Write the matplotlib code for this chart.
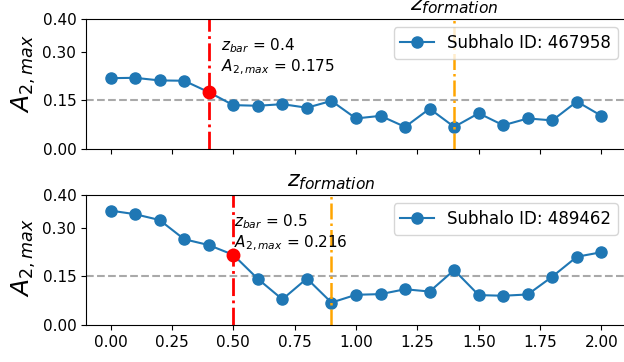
import numpy as np
import matplotlib
matplotlib.use("Agg")
import matplotlib.pyplot as plt

# redshift grid shared by both subhalos
z = [0.0, 0.1, 0.2, 0.3, 0.4, 0.5, 0.6, 0.7, 0.8, 0.9, 1.0,
     1.1, 1.2, 1.3, 1.4, 1.5, 1.6, 1.7, 1.8, 1.9, 2.0]

# A2,max per snapshot
a2_467958 = [0.218, 0.219, 0.211, 0.210, 0.175, 0.135, 0.133, 0.138, 0.127, 0.148, 0.094,
             0.102, 0.068, 0.124, 0.068, 0.110, 0.073, 0.094, 0.088, 0.146, 0.102]
a2_489462 = [0.352, 0.341, 0.323, 0.264, 0.246, 0.216, 0.142, 0.079, 0.143, 0.069, 0.093,
             0.095, 0.110, 0.103, 0.169, 0.092, 0.090, 0.094, 0.149, 0.210, 0.224]

ids = ["467958", "489462"]
z_bar = [0.4, 0.5]
a2_bar = [0.175, 0.216]
z_form = [1.4, 0.9]
text_x = [0.45, 0.505]
label_y = [0.58, 0.52]

yticks = [0.0, 0.15, 0.30, 0.40]
ytick_labels = ["0.00", "0.15", "0.30", "0.40"]
xticks = [0.0, 0.25, 0.5, 0.75, 1.0, 1.25, 1.5, 1.75, 2.0]
threshold = 0.15

fig = plt.figure(figsize=(6.24, 3.62), dpi=100)
ax1 = fig.add_axes([0.1378, 0.5884, 0.8654, 0.3591])
ax2 = fig.add_axes([0.1378, 0.1022, 0.8654, 0.3591])

for ax, vals, sid, zb, ab, zf, tx, ly in zip([ax1, ax2], [a2_467958, a2_489462], ids,
                                              z_bar, a2_bar, z_form, text_x, label_y):
    ax.plot(z, vals, marker='o', markersize=8, color='#1f77b4', lw=1.5,
            label='Subhalo ID: ' + sid)
    ax.axhline(threshold, color='darkgray', ls='--', lw=1.5, zorder=0)
    ax.axvline(zb, color='red', ls='-.', lw=2)
    ax.axvline(zf, color='orange', ls='-.', lw=1.8)
    ax.plot([zb], [ab], 'o', color='red', markersize=9, zorder=5)
    ax.text(tx, 0.222, '$z_{bar}$ = %s\n$A_{2, max}$ = %s' % (zb, ab), fontsize=11,
            va='bottom', ha='left')
    ax.text(zf, 0.41, '$z_{formation}$', fontsize=16, ha='center', va='bottom')
    ax.set_xlim(-0.1, 2.1)
    ax.set_ylim(0, 0.40)
    ax.set_yticks(yticks)
    ax.set_yticklabels(ytick_labels)
    ax.set_xticks(xticks)
    ax.tick_params(labelsize=11)
    ax.set_ylabel('$A_{2, max}$', fontsize=18)
    ax.yaxis.set_label_coords(-0.088, ly)
    ax.legend(loc='upper right', fontsize=12)

ax1.set_xticklabels([])

fig.savefig('out.png', dpi=100)
